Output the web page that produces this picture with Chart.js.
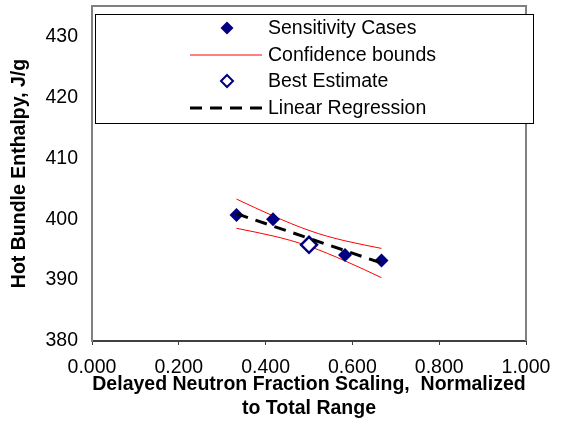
<!DOCTYPE html>
<html>
<head>
<meta charset="utf-8">
<script src="https://cdn.jsdelivr.net/npm/chart.js@4"></script>
<style>
  html, body { margin: 0; padding: 0; background: #fff; }
  #wrap { width: 564px; height: 423px; }
</style>
</head>
<body>
<div id="wrap"><canvas id="chart" width="564" height="423"></canvas></div>
<script>
// values
const sensX = [0.333, 0.417, 0.583, 0.667];
const sensY = [400.7, 400.0, 394.1, 393.2];
const bestX = [0.5];
const bestY = [395.8];
const regX = [0.333, 0.667];
const regY = [400.9, 392.8];
const boundX = [0.333, 0.375, 0.417, 0.458, 0.5, 0.542, 0.583, 0.625, 0.667];
const upperY = [403.3, 401.9, 400.55, 399.3, 398.15, 397.2, 396.45, 395.8, 395.2];
const lowerY = [398.5, 397.9, 397.25, 396.5, 395.55, 394.4, 393.15, 391.8, 390.4];
const xTicks = [0, 0.2, 0.4, 0.6, 0.8, 1.0];
const yTicks = [380, 390, 400, 410, 420, 430];

const FONT = '"Liberation Sans", Arial, sans-serif';
const NAVY = '#000080';

const pts = (xs, ys) => xs.map((x, i) => ({ x: x, y: ys[i] }));

// grey frame round the plot area (left, top, right)
const plotFrame = {
    id: 'plotFrame',
    beforeDatasetsDraw(chart) {
        const { ctx, chartArea: a } = chart;
        ctx.save();
        ctx.strokeStyle = '#808080';
        ctx.lineWidth = 2;
        ctx.beginPath();
        ctx.moveTo(a.left, a.bottom);
        ctx.lineTo(a.left, a.top);
        ctx.lineTo(a.right, a.top);
        ctx.lineTo(a.right, a.bottom);
        ctx.stroke();
        ctx.restore();
    }
};

// boxed legend drawn over the plot, like the original
const boxLegend = {
    id: 'boxLegend',
    afterDraw(chart) {
        const ctx = chart.ctx;
        const items = [
            { text: 'Sensitivity Cases', kind: 'point', fill: NAVY, stroke: NAVY, bw: 0 },
            { text: 'Confidence bounds', kind: 'line', color: '#ff0000', width: 1, dash: [] },
            { text: 'Best Estimate', kind: 'point', fill: '#ffffff', stroke: NAVY, bw: 2 },
            { text: 'Linear Regression', kind: 'line', color: '#000000', width: 3, dash: [12, 8] }
        ];
        const rows = [28, 55, 81, 108];
        ctx.save();
        ctx.fillStyle = '#ffffff';
        ctx.fillRect(95, 14, 438, 109);
        ctx.strokeStyle = '#000000';
        ctx.lineWidth = 1;
        ctx.strokeRect(95.5, 14.5, 438, 109);

        items.forEach((it, i) => {
            const y = rows[i];
            if (it.kind === 'line') {
                ctx.save();
                ctx.strokeStyle = it.color;
                ctx.lineWidth = it.width;
                ctx.setLineDash(it.dash);
                ctx.beginPath();
                ctx.moveTo(190, y);
                ctx.lineTo(262, y);
                ctx.stroke();
                ctx.restore();
            } else {
                ctx.save();
                ctx.fillStyle = it.fill;
                ctx.strokeStyle = it.stroke;
                ctx.lineWidth = it.bw;
                Chart.helpers.drawPoint(ctx, {
                    pointStyle: 'rectRot',
                    radius: it.bw ? 6 : 6.5,
                    rotation: 0,
                    borderWidth: it.bw
                }, 227, y);
                ctx.restore();
            }
            ctx.fillStyle = '#000000';
            ctx.font = '19.5px ' + FONT;
            ctx.textAlign = 'left';
            ctx.textBaseline = 'middle';
            ctx.fillText(it.text, 268, y + 1);
        });
        ctx.restore();
    }
};

new Chart(document.getElementById('chart'), {
    type: 'scatter',
    data: {
        datasets: [
            {
                label: 'Linear Regression',
                data: pts(regX, regY),
                showLine: true,
                borderColor: '#000000',
                borderWidth: 3,
                borderDash: [12, 8],
                pointRadius: 0,
                order: 0
            },
            {
                label: 'Sensitivity Cases',
                data: pts(sensX, sensY),
                pointStyle: 'rectRot',
                pointRadius: 7,
                backgroundColor: NAVY,
                borderColor: NAVY,
                borderWidth: 0,
                order: 1
            },
            {
                label: 'Best Estimate',
                data: pts(bestX, bestY),
                pointStyle: 'rectRot',
                pointRadius: 8,
                backgroundColor: '#ffffff',
                borderColor: NAVY,
                borderWidth: 2.5,
                order: 2
            },
            {
                label: 'Confidence bounds',
                data: pts(boundX, upperY),
                showLine: true,
                borderColor: '#ff0000',
                borderWidth: 1,
                pointRadius: 0,
                cubicInterpolationMode: 'monotone',
                order: 3
            },
            {
                label: 'Confidence bounds (lower)',
                data: pts(boundX, lowerY),
                showLine: true,
                borderColor: '#ff0000',
                borderWidth: 1,
                pointRadius: 0,
                cubicInterpolationMode: 'monotone',
                order: 3
            }
        ]
    },
    options: {
        responsive: false,
        animation: false,
        layout: { autoPadding: false, padding: { left: 0, right: 38, top: 6, bottom: 0 } },
        plugins: {
            legend: { display: false },
            tooltip: { enabled: false }
        },
        scales: {
            x: {
                type: 'linear',
                min: 0,
                max: 1,
                afterBuildTicks: (scale) => { scale.ticks = xTicks.map(v => ({ value: v })); },
                afterFit: (scale) => {
                    scale.height = 82;
                    scale.paddingLeft = 0;
                    scale.paddingRight = 0;
                    scale.paddingTop = 0;
                    scale.paddingBottom = 0;
                },
                grid: { display: true, drawOnChartArea: false, drawTicks: true, tickLength: 4, color: '#404040', lineWidth: 1 },
                border: { display: true, color: '#404040', width: 2 },
                ticks: {
                    color: '#000000',
                    font: { family: FONT, size: 19.5 },
                    padding: 11,
                    maxRotation: 0,
                    callback: (v) => Number(v).toFixed(3)
                },
                title: {
                    display: true,
                    text: ['Delayed Neutron Fraction Scaling,  Normalized', 'to Total Range'],
                    color: '#000000',
                    font: { family: FONT, size: 19.5, weight: 'bold', lineHeight: 1.2 },
                    padding: { top: 0, bottom: 3 }
                }
            },
            y: {
                type: 'linear',
                min: 380,
                max: 435,
                afterBuildTicks: (scale) => { scale.ticks = yTicks.map(v => ({ value: v })); },
                afterFit: (scale) => {
                    scale.width = 92;
                    scale.paddingTop = 0;
                    scale.paddingBottom = 0;
                    scale.paddingLeft = 0;
                    scale.paddingRight = 0;
                },
                grid: { display: false, drawTicks: false },
                border: { display: true, color: '#808080', width: 2 },
                ticks: {
                    color: '#000000',
                    font: { family: FONT, size: 19.5 },
                    padding: 14
                },
                title: {
                    display: true,
                    text: 'Hot Bundle Enthalpy, J/g',
                    color: '#000000',
                    font: { family: FONT, size: 19.5, weight: 'bold', lineHeight: 1.2 },
                    padding: { top: 8, bottom: 0 }
                }
            }
        }
    },
    plugins: [plotFrame, boxLegend]
});
</script>
</body>
</html>
